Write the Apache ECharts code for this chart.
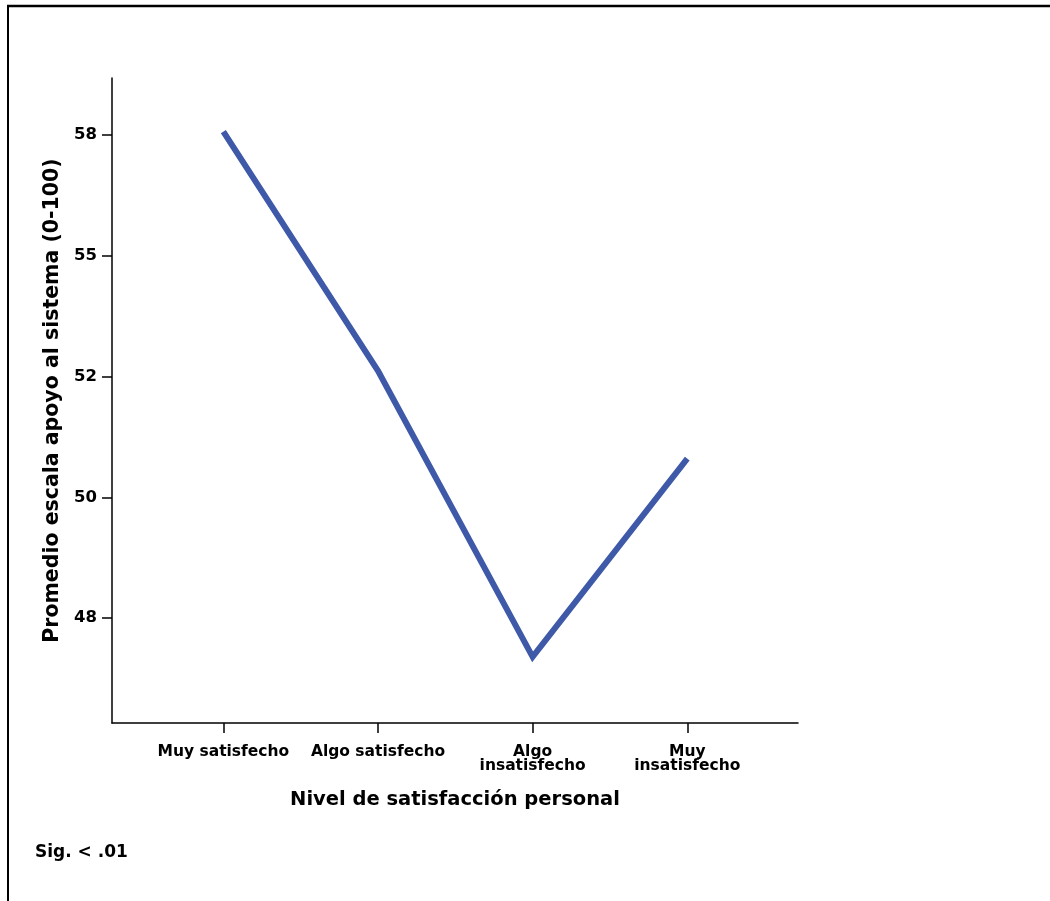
<!DOCTYPE html>
<html>
<head>
<meta charset="utf-8">
<script src="https://cdn.jsdelivr.net/npm/echarts@6/dist/echarts.min.js"></script>
<style>
html,body{margin:0;padding:0;background:#fff;}
#chart{width:1050px;height:901px;}
</style>
</head>
<body>
<div id="chart"></div>
<script>
const categories = ['Muy satisfecho', 'Algo satisfecho', 'Algo\ninsatisfecho', 'Muy\ninsatisfecho'];
const values = [57.57, 52.62, 46.70, 50.80];
const yTickValues = [47.5, 50, 52.5, 55, 57.5];
const yTickLabels = ['48', '50', '52', '55', '58'];
const xTitle = 'Nivel de satisfacción personal';
const yTitle = 'Promedio escala apoyo al sistema (0-100)';
const note = 'Sig. < .01';

const FONT = '"DejaVu Sans", "Liberation Sans", Arial, sans-serif';
const chart = echarts.init(document.getElementById('chart'), null, {renderer: 'canvas'});
const catIdx = categories.map((c, i) => i);

chart.setOption({
  backgroundColor: '#fff',
  animation: false,
  grid: {left: 112, top: 78, right: 252, bottom: 178, containLabel: false},
  xAxis: {
    type: 'value',
    min: -0.72,
    max: 3.716,
    splitLine: {show: false},
    axisLine: {show: true, onZero: false, lineStyle: {color: '#000', width: 1.5}},
    axisTick: {show: true, customValues: catIdx, length: 10, lineStyle: {color: '#000', width: 1.5}},
    axisLabel: {
      show: true, customValues: catIdx, margin: 22,
      formatter: v => categories[Math.round(v)],
      color: '#000', fontFamily: FONT, fontWeight: 'bold', fontSize: 15.5, lineHeight: 14
    },
    name: xTitle,
    nameLocation: 'middle',
    nameGap: 67,
    nameTextStyle: {color: '#000', fontFamily: FONT, fontWeight: 'bold', fontSize: 19.5}
  },
  yAxis: {
    type: 'value',
    min: 45.33,
    max: 58.68,
    splitLine: {show: false},
    axisLine: {show: true, onZero: false, lineStyle: {color: '#000', width: 1.5}},
    axisTick: {show: true, customValues: yTickValues, length: 10, lineStyle: {color: '#000', width: 1.5}},
    axisLabel: {
      show: true, customValues: yTickValues, margin: 15,
      formatter: v => yTickLabels[yTickValues.indexOf(v)],
      color: '#000', fontFamily: FONT, fontWeight: 'bold', fontSize: 16.5
    },
    name: yTitle,
    nameLocation: 'middle',
    nameGap: 45,
    nameRotate: 90,
    nameTextStyle: {color: '#000', fontFamily: FONT, fontWeight: 'bold', fontSize: 20.5}
  },
  series: [{
    type: 'line',
    data: values.map((v, i) => [i, v]),
    symbol: 'none',
    lineStyle: {color: '#3f59a9', width: 6, cap: 'butt', join: 'miter'},
    silent: true
  }],
  graphic: [
    {type: 'line', shape: {x1: 7, y1: 6, x2: 1050, y2: 6}, style: {stroke: '#000', lineWidth: 2.5}},
    {type: 'line', shape: {x1: 8, y1: 5, x2: 8, y2: 901}, style: {stroke: '#000', lineWidth: 2}},
    {type: 'text', left: 35, top: 844, style: {text: note, fill: '#000', font: 'bold 17px ' + FONT}}
  ]
});
</script>
</body>
</html>
